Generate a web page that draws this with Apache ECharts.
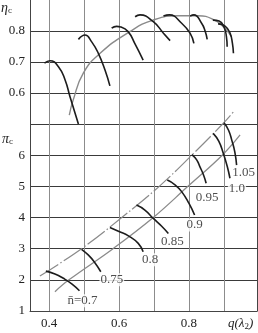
<!DOCTYPE html>
<html><head><meta charset="utf-8">
<script src="https://cdn.jsdelivr.net/npm/echarts@6/dist/echarts.min.js"></script>
<style>html,body{margin:0;padding:0;background:#fff}#c{width:258px;height:333px}</style>
</head><body><div id="c"></div>
<script>
// ---- tick labels ----
const qTickLabels = ['0.4', '0.6', '0.8'];
const etaTickLabels = ['0.6', '0.7', '0.8'];
const piTickLabels = ['1', '2', '3', '4', '5', '6'];

// ---- relative speed labels ----
const speedLabels = ['n\u0304=0.7', '0.75', '0.8', '0.85', '0.9', '0.95', '1.0', '1.05'];

// ---- efficiency (top) : [q(λ2), ηc] ----
const etaN070 = [[0.387,0.696],[0.403,0.704],[0.427,0.685],[0.446,0.642],[0.460,0.588],[0.484,0.500]];
const etaN075 = [[0.484,0.773],[0.503,0.787],[0.522,0.765],[0.541,0.728],[0.560,0.674],[0.574,0.623]];
const etaN080 = [[0.579,0.809],[0.593,0.815],[0.605,0.813],[0.626,0.798],[0.645,0.760],[0.669,0.706]];
const etaN085 = [[0.646,0.846],[0.660,0.852],[0.698,0.830],[0.727,0.793],[0.746,0.769]];
const etaN090 = [[0.727,0.848],[0.744,0.852],[0.779,0.825],[0.803,0.793],[0.814,0.760]];
const etaN095 = [[0.803,0.848],[0.814,0.852],[0.836,0.825],[0.846,0.800],[0.852,0.773]];
const etaN100 = [[0.868,0.835],[0.886,0.832],[0.900,0.813],[0.907,0.781],[0.909,0.749]];
const etaN105 = [[0.883,0.823],[0.903,0.816],[0.917,0.794],[0.924,0.761],[0.927,0.728]];
const etaOperating = [[0.458,0.529],[0.469,0.577],[0.498,0.664],[0.546,0.728],[0.631,0.798],[0.697,0.835],[0.769,0.849],[0.826,0.849],[0.873,0.835],[0.902,0.809],[0.921,0.782]];

// ---- pressure ratio (bottom) : [q(λ2), πc] ----
const piN070 = [[0.391,2.28],[0.417,2.19],[0.441,2.05],[0.465,1.87],[0.487,1.65]];
const piN075 = [[0.493,2.98],[0.512,2.80],[0.529,2.58],[0.548,2.26]];
const piN080 = [[0.574,3.68],[0.600,3.55],[0.627,3.41],[0.655,3.17],[0.669,2.90]];
const piN085 = [[0.650,4.40],[0.674,4.24],[0.698,3.97],[0.722,3.72],[0.741,3.49]];
const piN090 = [[0.738,5.20],[0.760,5.05],[0.779,4.83],[0.800,4.45],[0.816,4.08]];
const piN095 = [[0.808,6.02],[0.822,5.85],[0.831,5.63],[0.841,5.38],[0.849,5.10]];
const piN100 = [[0.869,6.70],[0.885,6.45],[0.898,6.06],[0.909,5.65],[0.917,5.26]];
const piN105 = [[0.900,7.04],[0.913,6.80],[0.922,6.49],[0.931,6.10],[0.936,5.68]];
const piSurge = [[0.374,2.12],[0.493,3.00],[0.608,4.00],[0.715,5.00],[0.808,6.00],[0.896,7.00],[0.927,7.39]];
const piOperating = [[0.417,1.62],[0.457,2.00],[0.583,3.00],[0.698,4.00],[0.797,5.00],[0.895,6.00],[0.946,6.65]];

const etaSpeeds = [etaN070, etaN075, etaN080, etaN085, etaN090, etaN095, etaN100, etaN105];
const piSpeeds = [piN070, piN075, piN080, piN085, piN090, piN095, piN100, piN105];

const FONT = 'Liberation Serif';
const DARK = '#1c1c1c';
const GRAY = '#8a8a8a';
const FRAME = '#444';
const labelOffsets = [[3,10],[11,8],[7,8],[4,8],[0,10],[1,14],[7,10],[7,7]];

const chart = echarts.init(document.getElementById('c'), null, {renderer: 'canvas'});

const fmt = v => Math.round(v * 10) / 10;
function xAxisCfg(idx, showLabels) {
  return {
    type: 'value', gridIndex: idx, min: 0.3457, max: 0.9943, splitNumber: 6,
    axisLine: {show: showLabels, onZero: false, lineStyle: {color: FRAME, width: 1}},
    axisTick: {show: false},
    splitLine: {show: true, showMinLine: false, showMaxLine: false, lineStyle: {color: '#8c8c8c', width: 1}},
    axisLabel: {
      show: showLabels, showMinLabel: false, showMaxLabel: false, margin: 6,
      fontFamily: FONT, fontSize: 13, color: '#222',
      formatter: v => { const s = fmt(v).toFixed(1); return qTickLabels.includes(s) ? s : ''; }
    }
  };
}
function rightFrame(idx) {
  return {
    type: 'value', gridIndex: idx, position: 'right', min: 0, max: 1,
    axisLine: {show: true, onZero: false, lineStyle: {color: FRAME, width: 1}},
    axisTick: {show: false}, axisLabel: {show: false}, splitLine: {show: false}
  };
}

const series = [];
etaSpeeds.forEach(d => series.push({
  type: 'line', xAxisIndex: 0, yAxisIndex: 0, data: d, smooth: 0.5, symbol: 'none', clip: false,
  lineStyle: {color: DARK, width: 1.6}, z: 3
}));
series.push({
  type: 'line', xAxisIndex: 0, yAxisIndex: 0, data: etaOperating, smooth: 0.5, symbol: 'none', clip: false,
  lineStyle: {color: GRAY, width: 1.4}, z: 2
});
series.push({
  type: 'line', xAxisIndex: 1, yAxisIndex: 1, data: piSurge, smooth: 0.4, symbol: 'none', clip: false,
  lineStyle: {color: GRAY, width: 1.2, type: [22, 2.5, 1.5, 2.5]}, z: 2
});
series.push({
  type: 'line', xAxisIndex: 1, yAxisIndex: 1, data: piOperating, smooth: 0.4, symbol: 'none', clip: false,
  lineStyle: {color: GRAY, width: 1.3}, z: 2
});
piSpeeds.forEach(d => series.push({
  type: 'line', xAxisIndex: 1, yAxisIndex: 1, data: d, smooth: 0.5, symbol: 'none', clip: false,
  lineStyle: {color: DARK, width: 1.6}, z: 3
}));
series.push({
  type: 'scatter', xAxisIndex: 1, yAxisIndex: 1, symbolSize: 0, silent: true, z: 5,
  data: piSpeeds.map((d, i) => ({
    value: d[d.length - 1],
    label: {
      show: true, position: 'inside', offset: labelOffsets[i],
      formatter: speedLabels[i],
      fontFamily: FONT, fontSize: 13, color: '#222',
      backgroundColor: '#fff', padding: [0, 1, 0, 1]
    }
  }))
});

chart.setOption({
  animation: false,
  backgroundColor: '#fff',
  grid: [
    {left: 30, top: 0, width: 227, height: 124, show: false},
    {left: 30, top: 124, width: 227, height: 187, show: false}
  ],
  xAxis: [xAxisCfg(0, false), xAxisCfg(1, true)],
  yAxis: [
    {
      type: 'value', gridIndex: 0, min: 0.5, max: 0.9, interval: 0.1,
      axisLine: {show: true, onZero: false, lineStyle: {color: FRAME, width: 1}}, axisTick: {show: false},
      splitLine: {showMaxLine: false, lineStyle: {color: '#3a3a3a', width: 1}},
      axisLabel: {margin: 5, fontFamily: FONT, fontSize: 13, color: '#222',
        formatter: v => { const s = fmt(v).toFixed(1); return etaTickLabels.includes(s) ? s : ''; }}
    },
    {
      type: 'value', gridIndex: 1, min: 1, max: 7, interval: 1,
      axisLine: {show: true, onZero: false, lineStyle: {color: FRAME, width: 1}}, axisTick: {show: false},
      splitLine: {lineStyle: {color: '#3a3a3a', width: 1}},
      axisLabel: {margin: 5, fontFamily: FONT, fontSize: 13, color: '#222',
        formatter: v => { const s = String(Math.round(v)); return piTickLabels.includes(s) ? s : ''; }}
    },
    rightFrame(0),
    rightFrame(1)
  ],
  graphic: [
    {type: 'text', left: 1, top: 1, style: {
      text: '{a|η}{b|c}', rich: {
        a: {fontFamily: FONT, fontSize: 14, fontStyle: 'italic', fill: '#222'},
        b: {fontFamily: FONT, fontSize: 9, fill: '#222', padding: [6, 0, 0, 0]}
      }}},
    {type: 'text', left: 2, top: 132, style: {
      text: '{a|π}{b|c}', rich: {
        a: {fontFamily: FONT, fontSize: 14, fontStyle: 'italic', fill: '#222'},
        b: {fontFamily: FONT, fontSize: 9, fill: '#222', padding: [6, 0, 0, 0]}
      }}},
    {type: 'text', left: 228, top: 317, style: {
      text: '{a|q(λ}{b|2}{a|)}', rich: {
        a: {fontFamily: FONT, fontSize: 13, fontStyle: 'italic', fill: '#222'},
        b: {fontFamily: FONT, fontSize: 9, fill: '#222', padding: [6, 0, 0, 0]}
      }}}
  ],
  series: series
});
</script></body></html>
